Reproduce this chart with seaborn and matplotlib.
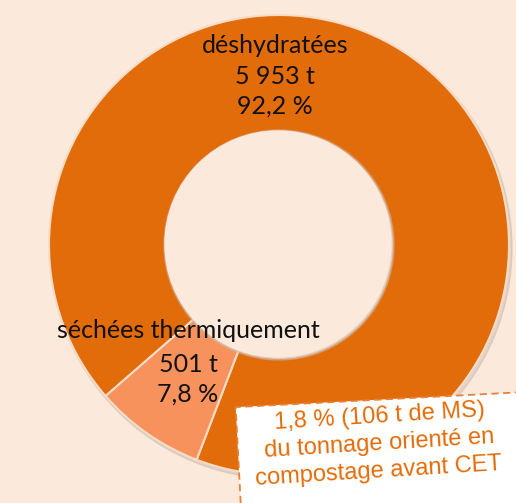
import matplotlib
matplotlib.use("Agg")
import matplotlib.pyplot as plt
import seaborn as sns
from matplotlib.patches import Rectangle, Circle

# data
categories = ["déshydratées", "séchées thermiquement"]
tonnage = [5953, 501]
shares = [92.2, 7.8]
tonnage_labels = ["5 953 t", "501 t"]
share_labels = ["92,2 %", "7,8 %"]
note_lines = ["1,8 % (106 t de MS)", "du tonnage orienté en", "compostage avant CET"]

bg = "#fbe9dc"
colors = ["#e36c0a", "#f7925c"]

sns.set_theme(style="white")
plt.rcParams["font.family"] = ["Lato", "DejaVu Sans"]

fig = plt.figure(figsize=(5.16, 5.03), dpi=100, facecolor=bg)
ax = fig.add_axes([0, 0, 1, 1])
ax.set_facecolor(bg)

cx, cy, r_out, r_in = 279, 258, 230, 113

# soft shadow under the ring
ax.add_patch(Circle((cx + 2, cy - 3), r_out + 1, color="#b9a99c", alpha=0.35, zorder=0))
ax.add_patch(Circle((cx, cy), r_in + 2, color="#cdbdb0", alpha=0.5, zorder=3))
ax.add_patch(Circle((cx - 1, cy + 1), r_in, color=bg, zorder=4))

wedges, _ = ax.pie(
    tonnage,
    colors=colors,
    startangle=249,
    counterclock=True,
    center=(cx, cy),
    radius=r_out,
    wedgeprops=dict(width=r_out - r_in, edgecolor="#f6dcc6", linewidth=1.5),
    frame=True,
)
for w in wedges:
    w.set_zorder(2)
ax.set_xlim(0, 516)
ax.set_ylim(0, 503)
ax.set_aspect("equal")
ax.axis("off")

# labels
txt = dict(ha="center", va="center", color="#111111", fontsize=18, zorder=6)
ax.text(275, 503 - 45, categories[0], **txt)
ax.text(275, 503 - 76, tonnage_labels[0], **txt)
ax.text(275, 503 - 106, share_labels[0], **txt)
ax.text(188, 503 - 330, categories[1], **txt)
ax.text(188, 503 - 364, tonnage_labels[1], **txt)
ax.text(188, 503 - 394, share_labels[1], **txt)

# annotation box
ax.add_patch(Rectangle((242, -25), 300, 121, angle=3, facecolor="white",
                       edgecolor="#e8803a", linestyle=(0, (4, 2.5)), linewidth=1.3, zorder=7))
for i, line in enumerate(note_lines):
    ax.text(380 - i * 0.5, 503 - 417 - i * 27, line, ha="center", va="center",
            rotation=3.5, color="#e36c0a", fontsize=17,
            family=["Liberation Sans", "DejaVu Sans"], zorder=8)

fig.savefig("out.png", dpi=100, facecolor=bg)
